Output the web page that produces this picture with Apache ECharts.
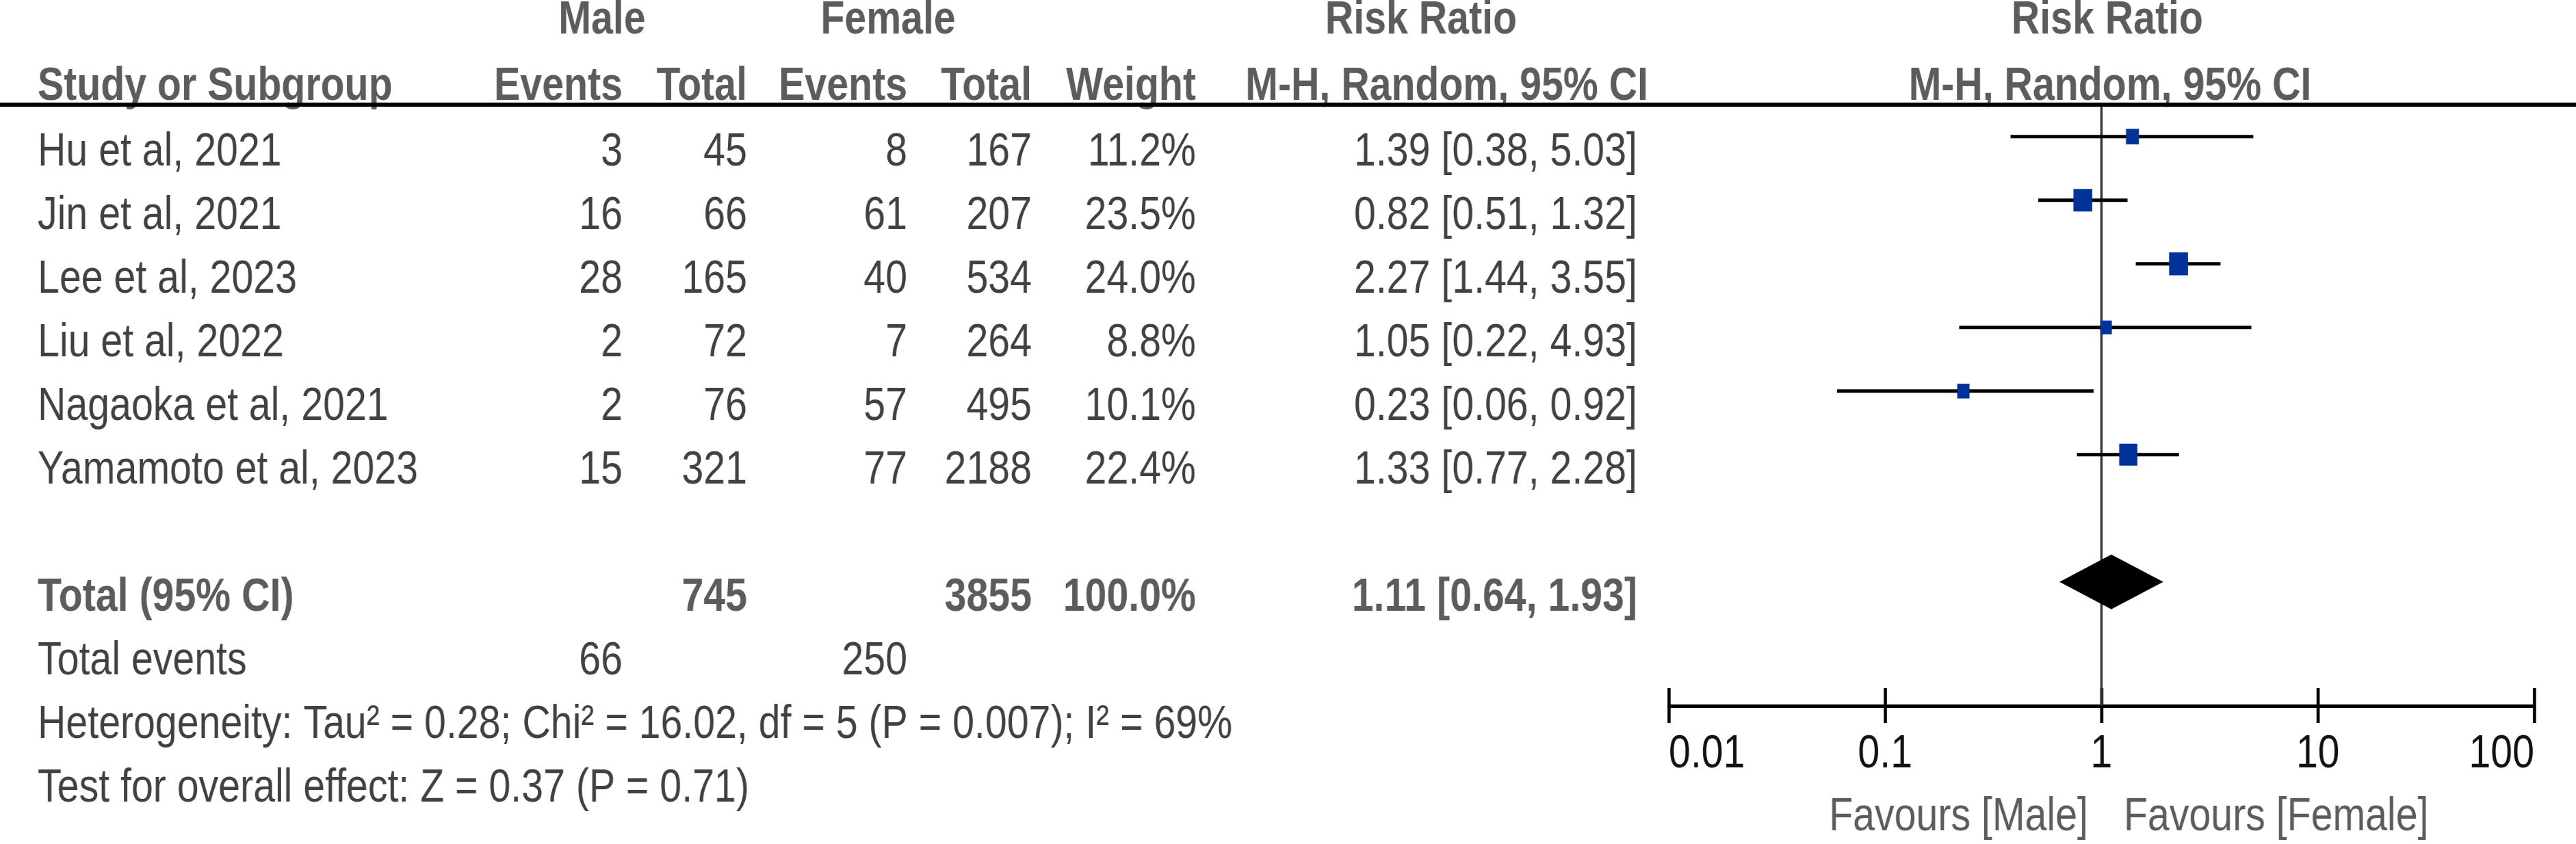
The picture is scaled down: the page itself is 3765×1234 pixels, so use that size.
<!DOCTYPE html>
<html>
<head>
<meta charset="utf-8">
<title>Forest plot - Male vs Female</title>
<script src="https://cdn.jsdelivr.net/npm/echarts@6/dist/echarts.min.js"></script>
<style>
  html, body { margin: 0; padding: 0; background: #fff; overflow: hidden; }
  #main { height: 1234px; transform-origin: 0 0; }
</style>
</head>
<body>
<div id="main"></div>
<script>
// study data
var studies = ['Hu et al, 2021', 'Jin et al, 2021', 'Lee et al, 2023', 'Liu et al, 2022', 'Nagaoka et al, 2021', 'Yamamoto et al, 2023'];
var maleEvents = [3, 16, 28, 2, 2, 15];
var maleTotal = [45, 66, 165, 72, 76, 321];
var femaleEvents = [8, 61, 40, 7, 57, 77];
var femaleTotal = [167, 207, 534, 264, 495, 2188];
var weights = [11.2, 23.5, 24.0, 8.8, 10.1, 22.4];
var riskRatio = [1.39, 0.82, 2.27, 1.05, 0.23, 1.33];
var ciLower = [0.38, 0.51, 1.44, 0.22, 0.06, 0.77];
var ciUpper = [5.03, 1.32, 3.55, 4.93, 0.92, 2.28];
// pooled estimate
var pooled = [0.64, 1.11, 1.93]; // lower, RR, upper
var heterogeneity = 'Heterogeneity: Tau\u00b2 = 0.28; Chi\u00b2 = 16.02, df = 5 (P = 0.007); I\u00b2 = 69%';
var overallEffect = 'Test for overall effect: Z = 0.37 (P = 0.71)';
var axisTicks = [0.01, 0.1, 1, 10, 100];
var favours = ['Favours [Male]', 'Favours [Female]'];

// layout
var SQUEEZE = 0.83;          // the source figure is horizontally condensed
var PAGE_W = 3765, PAGE_H = 1234;
var ROW0 = 223, ROW_H = 93;  // y of first study row and row pitch
var AXIS_Y = 1032;
var MARK_SHIFT = -0.25;      // squares/lines sit a bit above the text line
var FONT = 'Liberation Sans, Arial, Helvetica, sans-serif';
var COL = { study: 55, mEv: 910, mTot: 1092, fEv: 1326, fTot: 1508, wt: 1748, rr: 2393 };

function rowOf(px) { return (px - ROW0) / ROW_H; }

var el = document.getElementById('main');
var CW = Math.round(PAGE_W / SQUEEZE);
el.style.width = CW + 'px';
el.style.transform = 'scaleX(' + SQUEEZE + ')';

function cell(x, y, text, align, bold, color) {
    return {
        value: [x, y],
        name: String(text),
        label: {
            position: align === 'left' ? 'right' : (align === 'right' ? 'left' : 'inside'),
            fontWeight: bold ? 'bold' : 'normal',
            color: color || (bold ? '#333' : '#111')
        }
    };
}

var hdr1 = rowOf(30), hdr2 = rowOf(127);
var cells = [
    cell(880, hdr1, 'Male', 'center', true),
    cell(1298, hdr1, 'Female', 'center', true),
    cell(2077, hdr1, 'Risk Ratio', 'center', true),
    cell(3080, hdr1, 'Risk Ratio', 'center', true),
    cell(COL.study, hdr2, 'Study or Subgroup', 'left', true),
    cell(COL.mEv, hdr2, 'Events', 'right', true),
    cell(COL.mTot, hdr2, 'Total', 'right', true),
    cell(COL.fEv, hdr2, 'Events', 'right', true),
    cell(COL.fTot, hdr2, 'Total', 'right', true),
    cell(COL.wt, hdr2, 'Weight', 'right', true),
    cell(2409, hdr2, 'M-H, Random, 95% CI', 'right', true),
    cell(3084, hdr2, 'M-H, Random, 95% CI', 'center', true)
];

function ciText(est, lo, hi) {
    return est.toFixed(2) + ' [' + lo.toFixed(2) + ', ' + hi.toFixed(2) + ']';
}
function sum(a) { return a.reduce(function (s, v) { return s + v; }, 0); }

studies.forEach(function (name, i) {
    cells.push(cell(COL.study, i, name, 'left'));
    cells.push(cell(COL.mEv, i, maleEvents[i], 'right'));
    cells.push(cell(COL.mTot, i, maleTotal[i], 'right'));
    cells.push(cell(COL.fEv, i, femaleEvents[i], 'right'));
    cells.push(cell(COL.fTot, i, femaleTotal[i], 'right'));
    cells.push(cell(COL.wt, i, weights[i].toFixed(1) + '%', 'right'));
    cells.push(cell(COL.rr, i, ciText(riskRatio[i], ciLower[i], ciUpper[i]), 'right'));
});

var totalRow = studies.length + 1;
cells.push(cell(COL.study, totalRow, 'Total (95% CI)', 'left', true));
cells.push(cell(COL.mTot, totalRow, sum(maleTotal), 'right', true));
cells.push(cell(COL.fTot, totalRow, sum(femaleTotal), 'right', true));
cells.push(cell(COL.wt, totalRow, sum(weights).toFixed(1) + '%', 'right', true));
cells.push(cell(COL.rr, totalRow, ciText(pooled[1], pooled[0], pooled[2]), 'right', true));
cells.push(cell(COL.study, totalRow + 1, 'Total events', 'left'));
cells.push(cell(COL.mEv, totalRow + 1, sum(maleEvents), 'right'));
cells.push(cell(COL.fEv, totalRow + 1, sum(femaleEvents), 'right'));
cells.push(cell(COL.study, totalRow + 2, heterogeneity, 'left'));
cells.push(cell(COL.study, totalRow + 3, overallEffect, 'left'));
cells.push(cell(3052, rowOf(1195), favours[0], 'right', false, '#333'));
cells.push(cell(3104, rowOf(1195), favours[1], 'left', false, '#333'));

var ciData = studies.map(function (s, i) { return [ciLower[i], ciUpper[i], i + MARK_SHIFT]; });
var squareData = studies.map(function (s, i) { return [riskRatio[i], i + MARK_SHIFT, weights[i]]; });

var chart = echarts.init(el, null, { renderer: 'canvas' });
var option = {
    animation: false,
    backgroundColor: '#fff',
    textStyle: { fontFamily: FONT },
    grid: [
        { left: 0, right: 0, top: 0, bottom: 0 },
        { left: 2439 / SQUEEZE, right: (PAGE_W - 3704) / SQUEEZE, top: 0, height: AXIS_Y }
    ],
    xAxis: [
        { type: 'value', gridIndex: 0, min: 0, max: PAGE_W, show: false },
        {
            type: 'log', gridIndex: 1, logBase: 10, min: axisTicks[0], max: axisTicks[axisTicks.length - 1],
            position: 'bottom',
            axisLine: { show: true, onZero: false, lineStyle: { color: '#000', width: 5 } },
            axisTick: { show: true, inside: false, length: 25, lineStyle: { color: '#000', width: 5.5 } },
            axisLabel: {
                show: true, margin: 36, fontSize: 69, color: '#111', fontFamily: FONT,
                alignMinLabel: 'left', alignMaxLabel: 'right',
                formatter: function (v) { return String(Number(v.toPrecision(3))); }
            },
            splitLine: { show: false }
        },
        {
            type: 'log', gridIndex: 1, logBase: 10, min: axisTicks[0], max: axisTicks[axisTicks.length - 1],
            position: 'bottom',
            axisLine: { show: false, onZero: false },
            axisTick: { show: true, inside: true, length: 26, lineStyle: { color: '#000', width: 5.5 } },
            axisLabel: { show: false },
            splitLine: { show: false }
        }
    ],
    yAxis: [
        { type: 'value', gridIndex: 0, inverse: true, min: rowOf(0), max: rowOf(PAGE_H), show: false },
        { type: 'value', gridIndex: 1, inverse: true, min: rowOf(0), max: rowOf(AXIS_Y), show: false }
    ],
    series: [
        {
            // table text
            type: 'scatter', xAxisIndex: 0, yAxisIndex: 0, symbolSize: 0, silent: true,
            label: {
                show: true, distance: 0, formatter: '{b}', fontSize: 69, fontFamily: FONT,
                verticalAlign: 'middle'
            },
            data: cells,
            markLine: {
                silent: true, symbol: 'none', label: { show: false },
                lineStyle: { color: '#000', width: 6, type: 'solid' },
                data: [{ yAxis: rowOf(152) }]
            }
        },
        {
            // line of no effect
            type: 'line', xAxisIndex: 1, yAxisIndex: 1, symbol: 'none', silent: true, z: 1,
            lineStyle: { color: '#333', width: 4 },
            data: [[1, rowOf(152)], [1, rowOf(AXIS_Y)]]
        },
        {
            // confidence intervals
            type: 'custom', xAxisIndex: 1, yAxisIndex: 1, silent: true, z: 2,
            encode: { x: [0, 1], y: 2 },
            renderItem: function (params, api) {
                var a = api.coord([api.value(0), api.value(2)]);
                var b = api.coord([api.value(1), api.value(2)]);
                return {
                    type: 'line',
                    shape: { x1: a[0], y1: a[1], x2: b[0], y2: b[1] },
                    style: { stroke: '#000', lineWidth: 5 }
                };
            },
            data: ciData
        },
        {
            // study estimates, size by weight
            type: 'scatter', xAxisIndex: 1, yAxisIndex: 1, symbol: 'rect', silent: true, z: 3,
            symbolSize: function (v) { return 6.8 * Math.sqrt(v[2]); },
            itemStyle: { color: '#003399', opacity: 1 },
            data: squareData
        },
        {
            // pooled diamond
            type: 'custom', xAxisIndex: 1, yAxisIndex: 1, silent: true, z: 4,
            encode: { x: [0, 1, 2], y: 3 },
            renderItem: function (params, api) {
                var y = api.value(3);
                var lo = api.coord([api.value(0), y]);
                var mid = api.coord([api.value(1), y]);
                var hi = api.coord([api.value(2), y]);
                var h = 40;
                return {
                    type: 'polygon',
                    shape: { points: [lo, [mid[0], mid[1] - h], hi, [mid[0], mid[1] + h]] },
                    style: { fill: '#000' }
                };
            },
            data: [[pooled[0], pooled[1], pooled[2], totalRow + MARK_SHIFT]]
        }
    ]
};
chart.setOption(option);
</script>
</body>
</html>
